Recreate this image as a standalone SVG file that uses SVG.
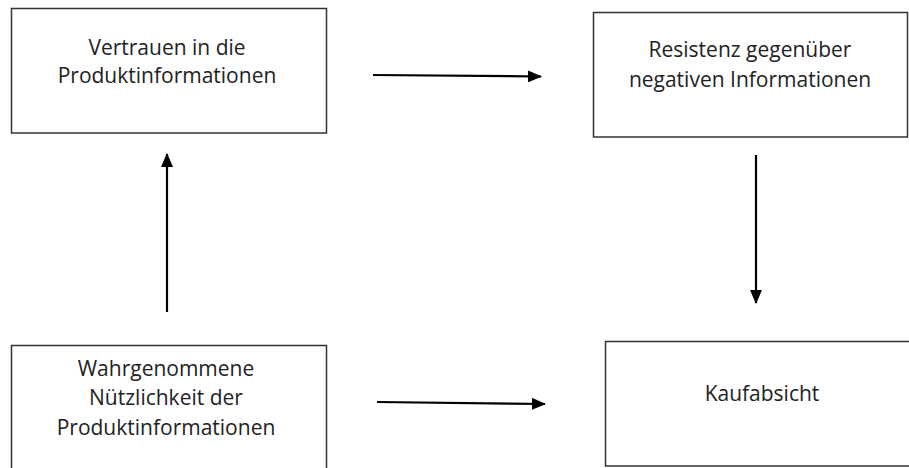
<svg xmlns="http://www.w3.org/2000/svg" width="909" height="468" viewBox="0 0 909 468">
<style>
.box{fill:#fff;stroke:#333;stroke-width:1.5}
.lbl{font-family:"Open Sans","Liberation Sans",sans-serif;font-size:21px;fill:#222;text-anchor:middle}
.con{stroke:#000;stroke-width:2.2;fill:none}
</style>
<defs>
<marker id="ah" viewBox="0 0 14 12" refX="13" refY="6" markerWidth="14" markerHeight="12" markerUnits="userSpaceOnUse" orient="auto">
<path d="M0,0 L14,6 L0,12 Z" fill="#000"/>
</marker>
</defs>
<rect width="909" height="468" fill="#fff"/>
<g id="n1">
<rect class="box" x="11.5" y="8.5" width="315" height="124.5"/>
<text class="lbl" x="167" y="55">Vertrauen in die</text>
<text class="lbl" x="167" y="83">Produktinformationen</text>
</g>
<g id="n2">
<rect class="box" x="593.5" y="12.5" width="314" height="124.5"/>
<text class="lbl" x="750" y="57">Resistenz gegenüber</text>
<text class="lbl" x="750" y="87">negativen Informationen</text>
</g>
<g id="n3">
<rect class="box" x="11.5" y="345.5" width="315" height="140"/>
<text class="lbl" x="166" y="376">Wahrgenommene</text>
<text class="lbl" x="166" y="405">Nützlichkeit der</text>
<text class="lbl" x="166" y="435">Produktinformationen</text>
</g>
<g id="n4">
<rect class="box" x="605.5" y="341.5" width="320" height="124.5"/>
<text class="lbl" x="762" y="401">Kaufabsicht</text>
</g>
<g id="connectors">
<line class="con" x1="373" y1="75" x2="541" y2="76.5" marker-end="url(#ah)"/>
<line class="con" x1="377" y1="402" x2="545" y2="404" marker-end="url(#ah)"/>
<line class="con" x1="167" y1="312" x2="167" y2="154" marker-end="url(#ah)"/>
<line class="con" x1="756" y1="155" x2="756" y2="303" marker-end="url(#ah)"/>
</g>
</svg>
